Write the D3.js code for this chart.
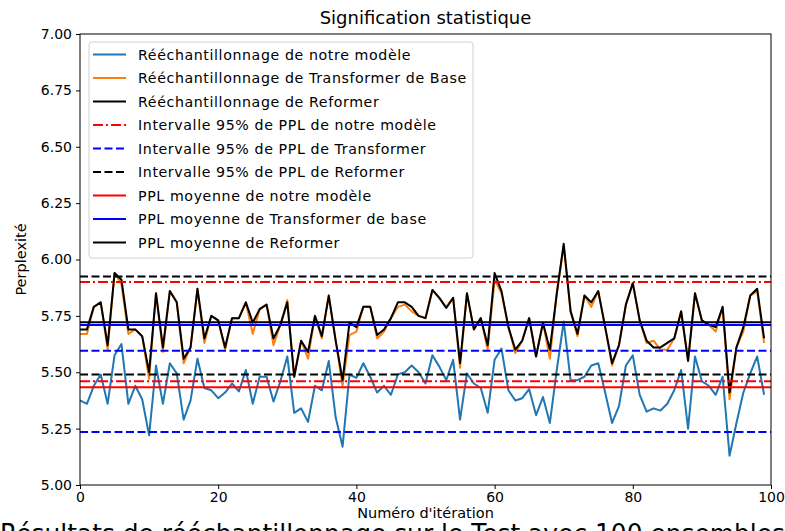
<!DOCTYPE html>
<html>
<head>
<meta charset="utf-8">
<script src="https://cdn.jsdelivr.net/npm/d3@7"></script>
<style>
  html, body { margin: 0; padding: 0; background: #fff; }
  svg { display: block; }
  text { font-family: "DejaVu Sans", sans-serif; fill: #000; }
</style>
</head>
<body>
<svg id="chart" width="785" height="531"></svg>
<script>
// ---------- data ----------
const iterations = d3.range(100);
const ourModel = [5.375,5.36,5.44,5.49,5.36,5.575,5.625,5.36,5.44,5.38,
  5.22,5.53,5.36,5.54,5.495,5.29,5.375,5.56,5.43,5.42,
  5.385,5.41,5.45,5.415,5.51,5.36,5.48,5.48,5.37,5.46,
  5.57,5.32,5.34,5.28,5.44,5.42,5.55,5.30,5.17,5.49,
  5.475,5.54,5.48,5.41,5.44,5.40,5.49,5.50,5.53,5.50,
  5.45,5.575,5.525,5.465,5.555,5.29,5.495,5.45,5.43,5.32,
  5.555,5.605,5.42,5.375,5.385,5.425,5.31,5.39,5.275,5.51,
  5.725,5.465,5.465,5.48,5.53,5.54,5.41,5.275,5.35,5.53,
  5.575,5.40,5.325,5.34,5.33,5.36,5.42,5.51,5.25,5.57,
  5.46,5.44,5.40,5.48,5.13,5.275,5.41,5.495,5.57,5.40];
const transformerBase = [5.67,5.67,5.79,5.81,5.60,5.94,5.89,5.67,5.69,5.66,
  5.47,5.85,5.59,5.86,5.81,5.54,5.61,5.87,5.63,5.75,
  5.73,5.60,5.74,5.74,5.81,5.67,5.78,5.80,5.62,5.71,
  5.82,5.48,5.64,5.56,5.75,5.65,5.84,5.64,5.44,5.665,
  5.68,5.79,5.79,5.65,5.68,5.74,5.79,5.80,5.77,5.75,
  5.74,5.865,5.83,5.79,5.83,5.52,5.85,5.69,5.74,5.60,
  5.91,5.85,5.70,5.585,5.64,5.74,5.57,5.72,5.56,5.85,
  6.06,5.77,5.66,5.84,5.79,5.86,5.70,5.53,5.62,5.80,
  5.895,5.73,5.63,5.64,5.60,5.60,5.65,5.77,5.55,5.85,
  5.73,5.71,5.68,5.79,5.38,5.61,5.68,5.84,5.86,5.63];
const reformer = [5.69,5.69,5.79,5.81,5.62,5.94,5.91,5.69,5.69,5.66,
  5.50,5.85,5.61,5.86,5.81,5.56,5.61,5.87,5.65,5.75,
  5.73,5.61,5.74,5.74,5.81,5.72,5.78,5.80,5.65,5.71,
  5.81,5.48,5.64,5.59,5.75,5.66,5.84,5.64,5.465,5.72,
  5.70,5.79,5.79,5.665,5.69,5.74,5.81,5.81,5.79,5.75,
  5.74,5.865,5.83,5.785,5.83,5.54,5.85,5.69,5.74,5.62,
  5.94,5.86,5.70,5.60,5.64,5.74,5.57,5.72,5.60,5.85,
  6.07,5.77,5.67,5.84,5.81,5.86,5.70,5.54,5.62,5.80,
  5.895,5.73,5.64,5.61,5.61,5.63,5.65,5.77,5.55,5.85,
  5.73,5.71,5.70,5.79,5.41,5.61,5.70,5.84,5.87,5.65];

const ciOurModel = [5.46, 5.90];
const ciTransformer = [5.235, 5.595];
const ciReformer = [5.49, 5.925];
const meanOurModel = 5.433;
const meanTransformer = 5.709;
const meanReformer = 5.722;

const yTicks = [5.00,5.25,5.50,5.75,6.00,6.25,6.50,6.75,7.00];
const xTicks = [0,20,40,60,80,100];

const legendLabels = [
  "Rééchantillonnage de notre modèle",
  "Rééchantillonnage de Transformer de Base",
  "Rééchantillonnage de Reformer",
  "Intervalle 95% de PPL de notre modèle",
  "Intervalle 95% de PPL de Transformer",
  "Intervalle 95% de PPL de Reformer",
  "PPL moyenne de notre modèle",
  "PPL moyenne de Transformer de base",
  "PPL moyenne de Reformer"
];
const titleText = "Signification statistique";
const xLabel = "Numéro d'itération";
const yLabel = "Perplexité";
const captionText = "Résultats de rééchantillonnage sur le Test avec 100 ensembles";

// ---------- styles ----------
const styles = [
  {color:"#1f77b4", dash:null},
  {color:"#ff7f0e", dash:null},
  {color:"#000000", dash:null},
  {color:"#ff0000", dash:"10,3,2,3"},
  {color:"#0000ff", dash:"8,3.5"},
  {color:"#000000", dash:"8,3.5"},
  {color:"#ff0000", dash:null},
  {color:"#0000ff", dash:null},
  {color:"#000000", dash:null}
];

// ---------- layout ----------
const svg = d3.select("#chart");
const L = 80, R = 771, T = 34, B = 485;
const x = d3.scaleLinear().domain([0,100]).range([L,R]);
const y = d3.scaleLinear().domain([5,7]).range([B,T]);

svg.append("rect").attr("width",785).attr("height",531).attr("fill","#fff");

const plot = svg.append("g");
const line = d3.line().x((d,i)=>x(i)).y(d=>y(d));

const series = [ourModel, transformerBase, reformer];
series.forEach((s,k)=>{
  plot.append("path").datum(s).attr("d", line)
    .attr("fill","none").attr("stroke", styles[k].color)
    .attr("stroke-width", 2).attr("stroke-linejoin","round");
});

function hline(v, st){
  plot.append("line").attr("x1",x(0)).attr("x2",x(100))
    .attr("y1",y(v)).attr("y2",y(v))
    .attr("stroke",st.color).attr("stroke-width",2)
    .attr("stroke-dasharray", st.dash);
}
ciOurModel.forEach(v=>hline(v, styles[3]));
ciTransformer.forEach(v=>hline(v, styles[4]));
ciReformer.forEach(v=>hline(v, styles[5]));
hline(meanOurModel, styles[6]);
hline(meanTransformer, styles[7]);
hline(meanReformer, styles[8]);

// axes
const yAxis = d3.axisLeft(y).tickValues(yTicks).tickFormat(d3.format(".2f"))
  .tickSizeInner(4).tickSizeOuter(0).tickPadding(4);
const gy = svg.append("g").attr("transform",`translate(${L},0)`).call(yAxis);
const xAxis = d3.axisBottom(x).tickValues(xTicks).tickFormat(d3.format("d"))
  .tickSizeInner(4).tickSizeOuter(0).tickPadding(3);
const gx = svg.append("g").attr("transform",`translate(0,${B})`).call(xAxis);
[gx, gy].forEach(g=>{
  g.select(".domain").remove();
  g.selectAll("text").attr("font-size",14).attr("font-family","DejaVu Sans").attr("fill","#000");
  g.selectAll("line").attr("stroke","#000");
});

svg.append("rect").attr("x",L).attr("y",T).attr("width",R-L).attr("height",B-T)
  .attr("fill","none").attr("stroke","#000").attr("stroke-width",1);

// labels
svg.append("text").attr("x",(L+R)/2).attr("y",24).attr("text-anchor","middle")
  .attr("font-size",18).text(titleText);
svg.append("text").attr("x",(L+R)/2).attr("y",518).attr("text-anchor","middle")
  .attr("font-size",14.5).text(xLabel);
svg.append("text").attr("transform",`translate(26,${(T+B)/2}) rotate(-90)`)
  .attr("text-anchor","middle").attr("font-size",14.5).text(yLabel);

// legend
const lg = svg.append("g");
lg.append("rect").attr("x",89).attr("y",42).attr("width",384).attr("height",216)
  .attr("rx",3).attr("fill","#fff").attr("fill-opacity",0.85)
  .attr("stroke","#d0d0d0").attr("stroke-width",1);
legendLabels.forEach((lab,i)=>{
  const yy = 54.5 + i*23.5;
  lg.append("line").attr("x1",93).attr("x2",126).attr("y1",yy).attr("y2",yy)
    .attr("stroke",styles[i].color).attr("stroke-width",2)
    .attr("stroke-dasharray",styles[i].dash);
  lg.append("text").attr("x",138).attr("y",yy+5).attr("font-size",14.2)
    .attr("letter-spacing",0.6).text(lab);
});

// cut-off caption below the figure (partially outside the picture, as in the reference)
svg.append("text").attr("x",0).attr("y",543).attr("font-family","Liberation Serif, serif")
  .attr("font-size",26).attr("textLength",785).attr("lengthAdjust","spacingAndGlyphs")
  .text(captionText);
</script>
</body>
</html>
